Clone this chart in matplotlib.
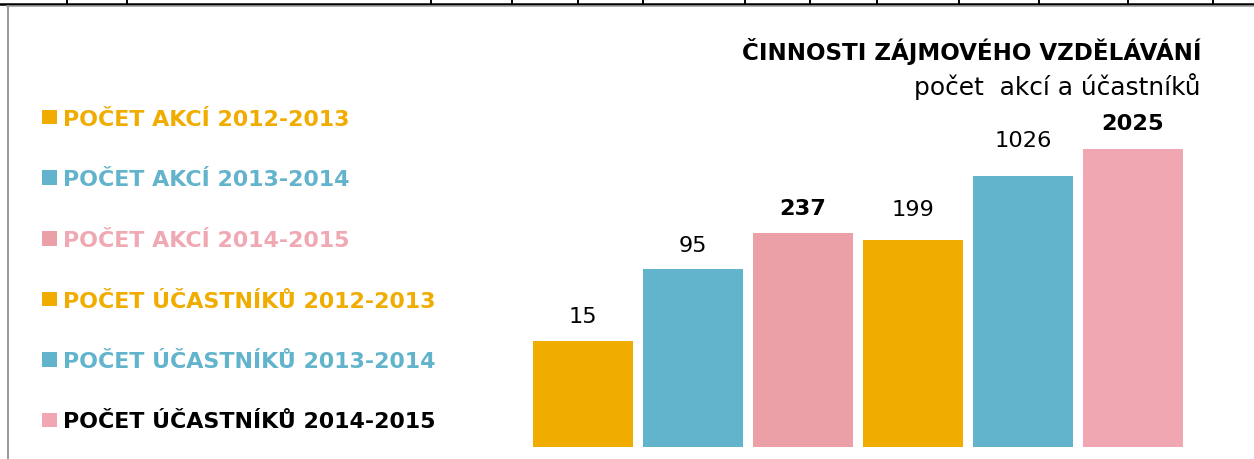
import matplotlib as mpl
mpl.use('Agg')
import matplotlib.pyplot as plt
from matplotlib.lines import Line2D
from matplotlib.patches import Rectangle

# data
series = ['POČET AKCÍ 2012-2013', 'POČET AKCÍ 2013-2014', 'POČET AKCÍ 2014-2015',
          'POČET ÚČASTNÍKŮ 2012-2013', 'POČET ÚČASTNÍKŮ 2013-2014', 'POČET ÚČASTNÍKŮ 2014-2015']
values = [15, 95, 237, 199, 1026, 2025]
title = 'ČINNOSTI ZÁJMOVÉHO VZDĚLÁVÁNÍ'
subtitle = 'počet  akcí a účastníků'

bar_colors = ['#F0AD00', '#62B4CC', '#EB9FA7', '#F0AD00', '#62B4CC', '#F0A7B1']
text_colors = ['#F0AD00', '#62B4CC', '#F0A8B2', '#F0AD00', '#62B4CC', '#000000']
bold_vals = [False, False, True, False, False, True]
label_pad = [18, 17, 18, 24, 29, 19]   # px above bar top to label baseline

W, H = 1254, 459
fig = plt.figure(figsize=(W / 100, H / 100), dpi=100)

def fx(x):
    return x / W

def fy(y):
    return 1 - y / H

# page border remnants
fig.add_artist(Line2D([0, 1], [fy(4), fy(4)], color='black', lw=1.8))
for tx in [67, 127, 431, 512, 578, 643, 745, 810, 877, 959, 1039, 1128, 1213]:
    fig.add_artist(Line2D([fx(tx), fx(tx)], [fy(0), fy(4)], color='black', lw=1.4))
fig.add_artist(Line2D([fx(7), 1], [fy(6), fy(6)], color='#999999', lw=1.1))
fig.add_artist(Line2D([fx(7.5), fx(7.5)], [fy(6), 0], color='#999999', lw=1.4))

# bars (log scale, ~90 px per decade)
ax_left, ax_right, ax_bottom, ax_top = 528, 1188, 447, 100
ax = fig.add_axes([fx(ax_left), fy(ax_bottom), (ax_right - ax_left) / W, (ax_bottom - ax_top) / H])
ax.set_yscale('log')
x = list(range(len(values)))
ax.bar(x, values, width=100 / 110, color=bar_colors, linewidth=0)
ax.set_xlim(-0.5, len(values) - 0.5)
ax.set_ylim(1, 10 ** ((ax_bottom - ax_top) / 90.1))
ax.axis('off')

for i, v in enumerate(values):
    ax.annotate(str(v), (i, v), xytext=(0, label_pad[i] * 0.72), textcoords='offset points',
                ha='center', va='baseline', fontsize=16.2,
                fontweight='bold' if bold_vals[i] else 'normal', color='black')

# legend
for i, name in enumerate(series):
    yb = 126 + i * 60.5
    fig.add_artist(Rectangle((fx(42.3), fy(yb - 1.5)), 14.5 / W, 14.5 / H,
                             color=bar_colors[i], linewidth=0))
    fig.text(fx(63), fy(yb), name, ha='left', va='baseline', fontsize=15.9,
             fontweight='bold', color=text_colors[i])

# titles
fig.text(fx(1201), fy(60), title, ha='right', va='baseline', fontsize=16.6,
         fontweight='bold', color='black')
fig.text(fx(1201), fy(95), subtitle, ha='right', va='baseline', fontsize=17.9,
         color='black')

fig.savefig('out.png', dpi=100)
